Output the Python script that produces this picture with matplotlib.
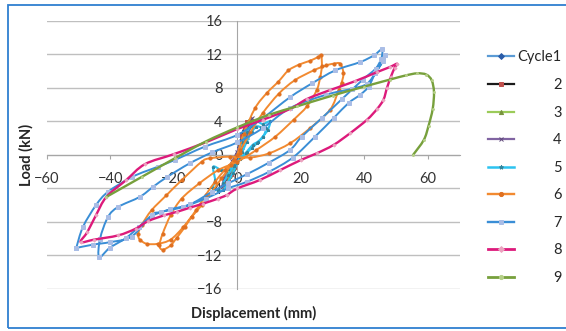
import numpy as np
import matplotlib
matplotlib.use("Agg")
import matplotlib.pyplot as plt
from matplotlib.path import Path
from matplotlib.patches import PathPatch, Rectangle
from matplotlib.lines import Line2D

plt.rcParams['font.family'] = ['Lato', 'DejaVu Sans']

# Dados (deslocamento em mm, carga em kN)
c1_x = [0, 0.6, 1.2, 1.8, 2.2, 1.8, 1.0, 0.2, -0.6, -1.4, -2.0, -1.6, -0.8, 0]
c1_y = [0, 0.9, 1.8, 2.6, 3.0, 2.2, 1.2, 0.2, -0.8, -1.8, -2.4, -1.6, -0.7, 0]

c2_x = [0, 0.8, 1.6, 2.4, 3.0, 2.6, 1.8, 1.0, 0.0, -1.0, -2.0, -2.8, -3.2, -2.6, -1.6, -0.6, 0.4]
c2_y = [0, 1.2, 2.3, 3.3, 3.9, 3.0, 1.9, 0.8, -0.4, -1.4, -2.3, -3.0, -3.4, -2.5, -1.4, -0.4, 0.6]

c3_x = [0, 1.0, 2.0, 3.0, 3.8, 3.4, 2.4, 1.2, 0, -1.2, -2.4, -3.4, -4.2, -3.6, -2.4, -1.2, 0]
c3_y = [0, 1.3, 2.5, 3.5, 4.2, 3.2, 2.0, 0.8, -0.4, -1.5, -2.5, -3.2, -3.6, -2.6, -1.5, -0.6, 0.3]

c4_x = [0, 1.2, 2.5, 3.6, 4.6, 4.2, 3.0, 1.6, 0.2, -1.2, -2.6, -3.8, -4.8, -4.2, -3.0, -1.6, -0.2, 1.0]
c4_y = [0, 1.4, 2.6, 3.6, 4.4, 3.4, 2.2, 1.0, -0.2, -1.3, -2.3, -3.1, -3.8, -2.8, -1.7, -0.7, 0.3, 1.3]

c5_x = [0, 1.5, 3.0, 4.5, 6.1, 8.0, 10.3, 9.6, 8.0, 6.2, 4.5, 2.8, 1.0, -1.0, -3.0, -5.0, -7.6,
        -7.0, -7.8, -6.2, -4.4, -3.0, -1.5, 0, 1.5, 3.0, 4.5, 6.0, 7.6, 9.0, 8.2, 6.5, 4.8, 3.0,
        1.0, -1.0, -3.0, -4.5]
c5_y = [0, 1.5, 2.8, 3.5, 4.0, 3.7, 4.0, 3.0, 2.2, 1.4, 0.8, 0.2, -0.5, -1.2, -1.7, -1.8, -1.4,
        -3.0, -4.0, -4.2, -4.2, -3.3, -2.2, -1.0, 0.3, 1.6, 2.7, 3.4, 3.3, 3.2, 2.2, 1.6, 1.2, 0.4,
        -0.4, -1.3, -2.4, -3.4]

c6_x = [0, 2, 5.6, 9.3, 12.9, 16.1, 19.5, 22.9, 25.4, 26.4,
        26.6, 26.1, 25, 21.9, 17.7, 12, 6, 0, -6, -12, -17.5, -21, -23.5, -24.5, -23.5,
        -21, -19.1, -16.5, -14.4, -11.2, -8, -5, -2, 1, 4, 8, 13, 18, 24, 28, 30.3, 32.4, 33.4,
        32.8, 31.9, 29.2, 22.9, 16.6, 10, 4,
        -2.3, -8.6, -11.2, -17.5, -22.3, -27, -30, -31.2, -30.7, -28.5, -25, -21, -17, -13, -10,
        -7, -4, -1, 1]
c6_y = [0, 2.5, 5.6, 7.4, 8.75, 10.1, 10.8, 11.25, 11.7, 11.9,
        10.6, 9.3, 7.75, 5.8, 4.2, 2.2, 0.6, -0.8, -1.8, -3.4, -5.2, -7.2, -9.4, -10.8, -11.3,
        -10.8, -9.9, -8.6, -7.4, -6.0, -4.4, -2.8, -1.2, 0.6, 2.6, 5.0, 7.3, 8.9, 10.1, 10.7, 10.9,
        10.9, 9.75, 8.6, 7.75, 5.4, 3.2, 1.4, 0.2, -0.3,
        -0.2, -0.4, -0.8, -3.0, -4.8, -6.6, -8.3, -9.4, -10.1, -10.6, -10.6, -10.1, -8.6, -6.6,
        -4.8, -3.2, -1.8, -0.6, 0.2]

c7_x = [-50.7, -48.6, -44.5, -40.7, -33, -25, -19.7, -10.2, 0, 8, 16.6, 23.5, 30.8, 38.7, 43, 45.5,
        45.3, 43.5, 39.5, 33, 26.6, 20.3, 16.6, 10, 3, -3, -8, -14.9, -21.2, -27, -31, -35, -40.2,
        -43.5,
        -43.2, -40.7, -37.5, -30.7, -26.5, -22, -15, -8, 0, 8, 16.6, 28, 36, 40.8, 43.8, 45.8, 46.6,
        46.0, 43.4, 41.3, 38.7, 35, 30.3, 24.5, 17.5, 10, 3, -3, -10, -17, -24, -27, -33.3, -40,
        -45.4, -50.7]
c7_y = [-11.1, -8.6, -6.0, -4.4, -2.6, -1.4, -0.6, 1.0, 2.4, 4.4, 6.9, 8.55, 10.1, 11.1, 11.9, 12.6,
        11.5, 10.3, 9.0, 6.7, 4.4, 2.2, 0.6, -0.9, -2.3, -3.4, -4.4, -5.9, -6.5, -7.3, -8.6, -9.9,
        -11.1, -12.2,
        -10.0, -7.4, -6.2, -5.0, -3.8, -2.6, -1.0, 0.3, 1.5, 3.2, 5.6, 7.2, 7.9, 8.5, 10.0, 11.2, 11.9,
        11.3, 9.75, 8.15, 7.2, 6.2, 4.4, 2.2, -0.3, -2.0, -3.2, -4.0, -5.2, -6.2, -6.8, -7.2, -9.75,
        -10.4, -10.7, -11.1]

c8_x = [-3.3, 0, 7, 13.5, 20, 25, 30.3, 35.5, 40.8, 44, 46, 47.1, 48.3, 49.5, 50.3,
        48, 44, 37, 29.2, 22, 16.6, 8, 0, -10, -20, -29.1, -35, -41.2, -44.5, -47.2, -49.3,
        -45, -37.5, -32, -28.1, -23, -19.1, -15, -10.7, -6, -3.3]
c8_y = [-4.8, -4.0, -3.0, -1.8, -0.6, 0.2, 1.2, 2.6, 4.2, 5.5, 6.6, 8.0, 9.3, 10.4, 10.9,
        10.5, 9.9, 8.8, 7.75, 6.7, 5.5, 4.2, 3.1, 1.5, 0.1, -1.1, -3.0, -5.0, -7.2, -9.2, -10.4,
        -10.1, -9.6, -8.8, -7.9, -7.2, -6.8, -6.3, -5.8, -5.2, -4.8]

c9_x = [-41.2, -30, -19.7, -10, 0, 10, 18.7, 30, 39.8, 48, 53, 56.6, 59.5, 61.2, 61.9, 61.5, 60.2,
        58.7, 55.3]
c9_y = [-5.0, -2.6, -0.4, 1.6, 3.3, 4.8, 5.8, 7.1, 8.15, 9.0, 9.5, 9.75, 9.6, 8.9, 7.5, 5.5, 3.5,
        1.8, 0]

rotulos = ["Cycle1", "2", "3", "4", "5", "6", "7", "8", "9"]
serie_x = [c1_x, c2_x, c3_x, c4_x, c5_x, c6_x, c7_x, c8_x, c9_x]
serie_y = [c1_y, c2_y, c3_y, c4_y, c5_y, c6_y, c7_y, c8_y, c9_y]

# estilo: cor da linha, marcador, cor do marcador, espessura, tamanho do marcador
estilos = [
    ("#5B9BD5", "D", "#2A5CA8", 1.3, 2.2),
    ("#1A1A1A", "s", "#C0504D", 1.3, 2.2),
    ("#9BCB59", "^", "#77933C", 1.3, 2.2),
    ("#8064A2", "x", "#604A7B", 1.3, 2.2),
    ("#2CC3F0", "*", "#31859C", 1.5, 2.2),
    ("#F28A30", "o", "#E07020", 1.4, 2.3),
    ("#3A8ED6", "s", "#A9BDE6", 1.4, 2.4),
    ("#DD1A7B", "D", "#EBA3BF", 1.7, 1.6),
    ("#77A03C", "o", "#B5CF88", 1.7, 1.4),
]


def caminho_suave(xs, ys):
    # curva suavizada (tipo Excel) passando pelos pontos
    p = np.column_stack([xs, ys]).astype(float)
    n = len(p)
    verts = [p[0]]
    codes = [Path.MOVETO]
    for i in range(n - 1):
        p0 = p[i - 1] if i > 0 else p[i]
        p1, p2 = p[i], p[i + 1]
        p3 = p[i + 2] if i + 2 < n else p[i + 1]
        verts += [p1 + (p2 - p0) / 6, p2 - (p3 - p1) / 6, p2]
        codes += [Path.CURVE4] * 3
    return Path(verts, codes)


fig = plt.figure(figsize=(5.66, 3.31), dpi=100)
ax = fig.add_axes([0.0825, 0.1269, 0.7297, 0.8097])

handles = []
for i, (xs, ys, (cor, mk, mcor, lw, ms)) in enumerate(zip(serie_x, serie_y, estilos)):
    z = 3 + i * 0.1
    ax.add_patch(PathPatch(caminho_suave(xs, ys), fill=False, edgecolor=cor, lw=lw,
                           joinstyle="round", capstyle="round", zorder=z))
    ax.plot(xs, ys, ls="none", marker=mk, ms=ms, mfc=mcor, mec=mcor, mew=0.7, zorder=z + 0.05)
    handles.append(Line2D([], [], color=cor, lw=lw + 0.3, marker=mk, ms=3,
                          mfc=mcor, mec=mcor, mew=0.7))

ax.set_xlim(-60, 70)
ax.set_ylim(-16, 16)
ax.set_xticks(range(-60, 61, 20))
ax.set_yticks(range(-16, 17, 4))

for lado in ["top", "right"]:
    ax.spines[lado].set_visible(False)
ax.spines["left"].set_position(("data", 0))
ax.spines["bottom"].set_position(("data", 0))
ax.spines["left"].set_color("#A6A6A6")
ax.spines["bottom"].set_color("#A6A6A6")
ax.yaxis.grid(True, color="#BFBFBF", lw=1.0)
ax.set_axisbelow(True)

ax.tick_params(axis="x", direction="out", length=3, width=0.8, color="#A6A6A6",
               pad=8.9, labelsize=10.5, labelcolor="#333333")
ax.tick_params(axis="y", length=0, pad=10.5, labelsize=10.5, labelcolor="#333333")

ax.set_xlabel("Displacement (mm)", fontsize=10.5, fontweight="bold", color="#262626")
ax.xaxis.set_label_coords(0.5, -0.062)
ax.set_ylabel("Load (kN)", fontsize=10.5, fontweight="bold", color="#262626")
ax.yaxis.set_label_coords(-0.031, 0.5)

leg = fig.legend(handles, rotulos, loc="upper left", bbox_to_anchor=(488 / 566, 1 - 50.5 / 331),
                 frameon=False, borderpad=0, borderaxespad=0, handlelength=1.78,
                 handletextpad=0.25, labelspacing=0.93, fontsize=10.5)
for t in leg.get_texts():
    t.set_color("#262626")

# alinhar os rótulos da legenda à direita
fig.canvas.draw()
larguras = [t.get_window_extent().width for t in leg.get_texts()]
wmax = max(larguras)
for t, w in zip(leg.get_texts(), larguras):
    t.set_position((wmax - w, 0))

fig.patches.append(Rectangle((8.3 / 566, 2.7 / 331), 1.0, (331 - 5 - 2.7) / 331,
                             transform=fig.transFigure, fill=False, ec="#2F7FD0", lw=1.3))

plt.savefig("out.png", dpi=100)
